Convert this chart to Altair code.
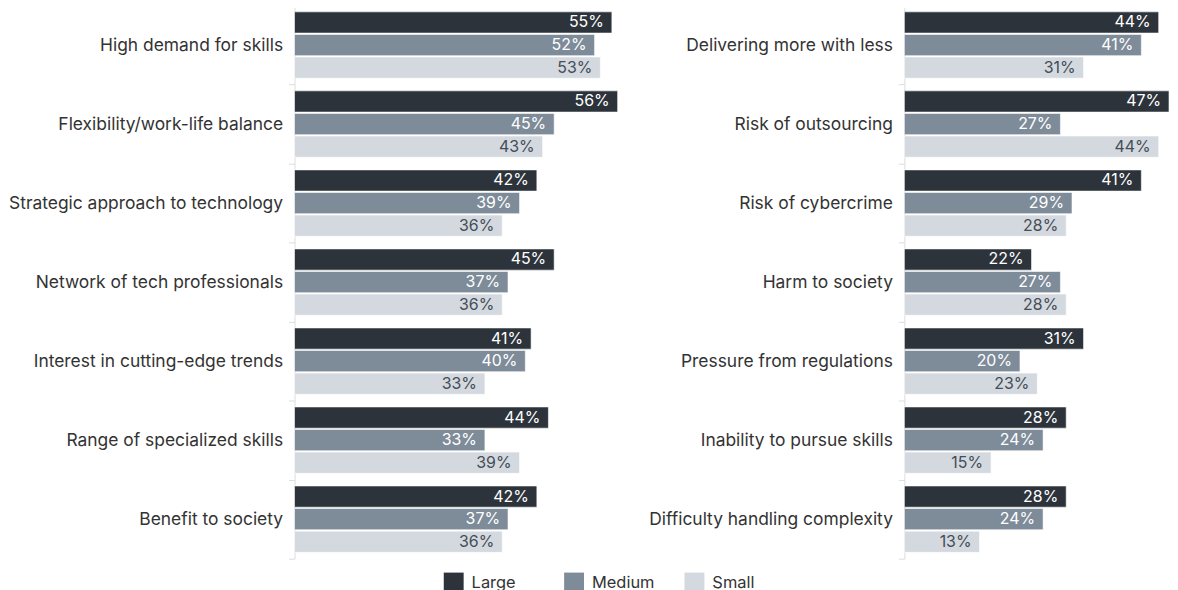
import altair as alt
import pandas as pd

sizes = ["Large", "Medium", "Small"]
colors = ["#2d333a", "#7e8b99", "#d3d9df"]

left_cats = ["High demand for skills", "Flexibility/work-life balance",
             "Strategic approach to technology", "Network of tech professionals",
             "Interest in cutting-edge trends", "Range of specialized skills",
             "Benefit to society"]
left_large = [55, 56, 42, 45, 41, 44, 42]
left_medium = [52, 45, 39, 37, 40, 33, 37]
left_small = [53, 43, 36, 36, 33, 39, 36]

right_cats = ["Delivering more with less", "Risk of outsourcing", "Risk of cybercrime",
              "Harm to society", "Pressure from regulations",
              "Inability to pursue skills", "Difficulty handling complexity"]
right_large = [44, 47, 41, 22, 31, 28, 28]
right_medium = [41, 27, 29, 27, 20, 24, 24]
right_small = [31, 44, 28, 28, 23, 15, 13]


def make_df(cats, large, medium, small):
    rows = []
    for i, c in enumerate(cats):
        for s, vals in zip(sizes, [large, medium, small]):
            rows.append({"cat": c, "size": s, "value": vals[i], "label": f"{vals[i]}%"})
    return pd.DataFrame(rows)


FONT = "Inter"
H = 556


def panel(df, cats, width, domain_max):
    base = alt.Chart(df).encode(
        y=alt.Y("cat:N", sort=cats, title=None,
                scale=alt.Scale(paddingInner=0, paddingOuter=0),
                axis=alt.Axis(tickBand="extent", domainColor="#dddddd", tickColor="#dddddd",
                              tickSize=6, labelPadding=6, labelFontSize=17.5, labelFont=FONT,
                              labelColor="#333333", labelLimit=400)),
        yOffset=alt.YOffset("size:N", sort=sizes,
                            scale=alt.Scale(paddingInner=0.06, paddingOuter=0.28)),
        x=alt.X("value:Q", axis=None,
                scale=alt.Scale(domain=[0, domain_max], nice=False, clamp=True)),
    )
    legend = alt.Legend(orient="none", legendX=150, legendY=H + 14, direction="horizontal",
                        title=None, symbolType="square",
                        symbolSize=400, symbolStrokeWidth=0,
                        labelFontSize=16.5, labelFont=FONT,
                        labelColor="#333333", columnPadding=30, gridAlign="all",
                        labelOffset=8)
    bars = base.mark_bar(stroke="white", strokeWidth=0.6).encode(
        color=alt.Color("size:N", sort=sizes,
                        scale=alt.Scale(domain=sizes, range=colors),
                        legend=legend)
    )
    text = base.mark_text(align="right", baseline="middle", dx=-8, fontSize=16,
                          font=FONT).encode(
        text="label:N",
        color=alt.condition(alt.datum.size == "Small", alt.value("#454d56"), alt.value("white")),
    )
    return alt.layer(bars, text).properties(width=width, height=H)


left = panel(make_df(left_cats, left_large, left_medium, left_small), left_cats, 340, 340 / 5.8)
right = panel(make_df(right_cats, right_large, right_medium, right_small), right_cats, 266, 266 / 5.81)

chart = alt.hconcat(left, right, spacing=15).properties(
    padding={"top": -13, "left": 0, "right": 0, "bottom": 0}
).configure_view(stroke=None)

chart.save("out.html", embed_options={"renderer": "svg", "actions": False})
